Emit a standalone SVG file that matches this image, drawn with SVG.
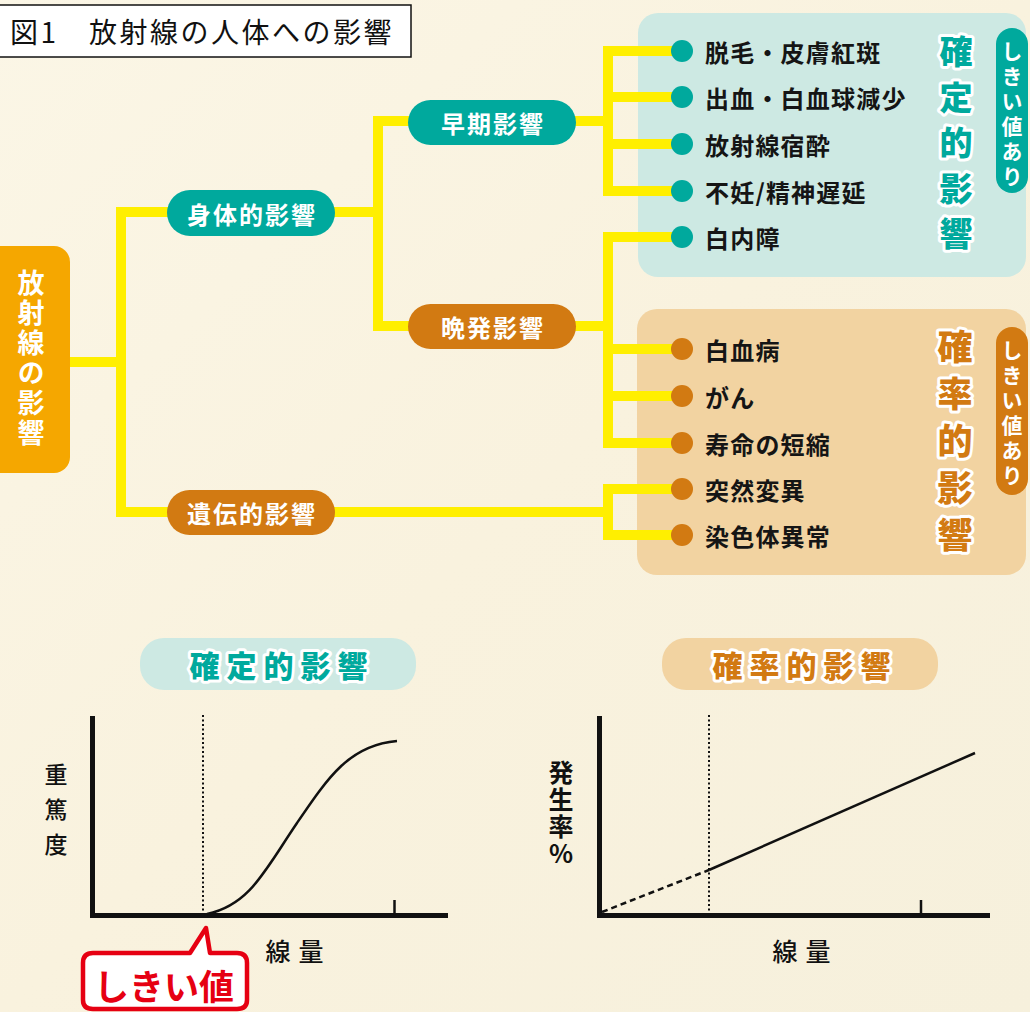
<svg xmlns="http://www.w3.org/2000/svg" width="1030" height="1012" viewBox="0 0 1030 1012">
<defs>
<style>
text{font-family:"Noto Sans CJK JP","Noto Sans CJK SC",sans-serif}
.conn{stroke:#FFEF00;stroke-width:10;fill:none;stroke-linejoin:miter}
.pt{fill:#00A99D}
.po{fill:#D27A12}
.ptxt{fill:#fff;font-size:24px;font-weight:700;text-anchor:middle;dominant-baseline:central;letter-spacing:2px}
.item{fill:#151515;font-size:24px;font-weight:700;dominant-baseline:central;letter-spacing:1.2px}
.bt{fill:#00A99D}
.bo{fill:#D27A12}
.big{stroke:#fff;stroke-width:6;paint-order:stroke;stroke-linejoin:round;font-weight:900;text-anchor:middle;dominant-baseline:central}
.vt{writing-mode:vertical-rl;text-orientation:upright;text-anchor:start}
.vbig{stroke:#fff;stroke-width:6;paint-order:stroke;stroke-linejoin:round;font-weight:900}
.tag{fill:#fff;font-size:21px;font-weight:700;letter-spacing:4px}
.axis{stroke:#111;stroke-width:5;fill:none}
.lbl{fill:#111;text-anchor:middle;dominant-baseline:central}
</style>
<linearGradient id="bg" x1="0" y1="0" x2="1" y2="1">
<stop offset="0" stop-color="#FBF6E6"/>
<stop offset="0.5" stop-color="#F9F2DE"/>
<stop offset="1" stop-color="#F6F0DC"/>
</linearGradient>
</defs>
<rect width="1030" height="1012" fill="url(#bg)"/>

<g id="title">
<rect x="-5" y="5" width="416" height="52" fill="#fff" stroke="#111" stroke-width="1.5"/>
<text x="10" y="31" font-size="28" dominant-baseline="central" letter-spacing="2.5" fill="#111">図1　放射線の人体への影響</text>
</g>

<g id="group-deterministic">
<rect x="638" y="13" width="388" height="264" rx="20" fill="#CDE9E3"/>
</g>
<g id="group-stochastic">
<rect x="637" y="309" width="389" height="266" rx="20" fill="#F2D3A1"/>
</g>

<g id="connectors">
<path class="conn" d="M69,362 H121"/>
<path class="conn" d="M170,212 H121 V512 H170"/>
<path class="conn" d="M330,212 H378"/>
<path class="conn" d="M412,121 H378 V326 H412"/>
<path class="conn" d="M572,121 H608"/>
<path class="conn" d="M682,51 H608 V191 H682"/>
<path class="conn" d="M608,97 H682 M608,144 H682"/>
<path class="conn" d="M572,326 H608"/>
<path class="conn" d="M682,237 H608 V443 H682"/>
<path class="conn" d="M608,349 H682 M608,396 H682"/>
<path class="conn" d="M330,512 H608"/>
<path class="conn" d="M682,489 H608 V535 H682"/>
</g>

<g id="root">
<rect x="-15" y="246" width="85" height="227" rx="16" fill="#F5A700"/>
<text class="vt" x="31" y="269" fill="#fff" font-size="27" font-weight="700" letter-spacing="3">放射線の影響</text>
</g>

<g id="node-shintai">
<rect class="pt" x="167" y="190" width="168" height="46" rx="23"/>
<text class="ptxt" x="252" y="213">身体的影響</text>
</g>
<g id="node-iden">
<rect class="po" x="167" y="490" width="168" height="45" rx="22.5"/>
<text class="ptxt" x="252" y="512">遺伝的影響</text>
</g>
<g id="node-souki">
<rect class="pt" x="408" y="100" width="168" height="45" rx="22.5"/>
<text class="ptxt" x="493" y="122">早期影響</text>
</g>
<g id="node-banpatsu">
<rect class="po" x="408" y="304" width="168" height="45" rx="22.5"/>
<text class="ptxt" x="493" y="326">晩発影響</text>
</g>

<g id="item-datsumo"><circle class="pt" cx="682" cy="51" r="11"/><text class="item" x="705" y="51">脱毛・皮膚紅斑</text></g>
<g id="item-shukketsu"><circle class="pt" cx="682" cy="97" r="11"/><text class="item" x="705" y="97">出血・白血球減少</text></g>
<g id="item-shukusui"><circle class="pt" cx="682" cy="144" r="11"/><text class="item" x="705" y="144">放射線宿酔</text></g>
<g id="item-funin"><circle class="pt" cx="682" cy="191" r="11"/><text class="item" x="705" y="191">不妊/精神遅延</text></g>
<g id="item-hakunaisho"><circle class="pt" cx="682" cy="237" r="11"/><text class="item" x="705" y="237">白内障</text></g>
<g id="item-hakketsubyo"><circle class="po" cx="682" cy="349" r="11"/><text class="item" x="705" y="349">白血病</text></g>
<g id="item-gan"><circle class="po" cx="682" cy="396" r="11"/><text class="item" x="705" y="396">がん</text></g>
<g id="item-jumyo"><circle class="po" cx="682" cy="443" r="11"/><text class="item" x="705" y="443">寿命の短縮</text></g>
<g id="item-totsuzen"><circle class="po" cx="682" cy="489" r="11"/><text class="item" x="705" y="489">突然変異</text></g>
<g id="item-senshokutai"><circle class="po" cx="682" cy="535" r="11"/><text class="item" x="705" y="535">染色体異常</text></g>

<g id="label-deterministic">
<text class="vt vbig bt" x="956" y="35" font-size="33" letter-spacing="12.5">確定的影響</text>
<rect class="pt" x="996" y="28" width="32" height="165" rx="16"/>
<text class="vt tag" x="1012" y="41">しきい値あり</text>
</g>
<g id="label-stochastic">
<text class="vt vbig bo" x="955" y="329" font-size="35" letter-spacing="12">確率的影響</text>
<rect class="po" x="996" y="327" width="32" height="168" rx="16"/>
<text class="vt tag" x="1012" y="340">しきい値あり</text>
</g>

<g id="graph1-title">
<rect x="140" y="638" width="276" height="52" rx="24" fill="#CDE9E3"/>
<text class="big bt" x="282" y="664" font-size="30" letter-spacing="7">確定的影響</text>
</g>
<g id="graph2-title">
<rect x="662" y="638" width="276" height="52" rx="24" fill="#F2D3A1"/>
<text class="big bo" x="805" y="664" font-size="30" letter-spacing="7">確率的影響</text>
</g>

<g id="graph1">
<path class="axis" d="M92.5,716 V915.5 H448"/>
<path d="M394.5,900 V915" stroke="#111" stroke-width="2.5"/>
<path d="M203,715 V913" stroke="#111" stroke-width="2" stroke-dasharray="2 2.5"/>
<path d="M207,914 C250,905 265,870 297,823 C329,776 350,745 397,741" stroke="#111" stroke-width="2.5" fill="none"/>
<text class="vt" x="56" y="763" fill="#111" font-size="23" font-weight="500" letter-spacing="12">重篤度</text>
<text class="lbl" font-size="25" font-weight="500"><tspan x="278" y="950">線</tspan><tspan x="311" y="950">量</tspan></text>
</g>

<g id="graph2">
<path class="axis" d="M599.5,716 V915.5 H990"/>
<path d="M921,900 V915" stroke="#111" stroke-width="2.5"/>
<path d="M709,715 V912" stroke="#111" stroke-width="2" stroke-dasharray="2 2.5"/>
<path d="M602,912 L709,870" stroke="#111" stroke-width="2.5" stroke-dasharray="6 4"/>
<path d="M709,870 L975,753" stroke="#111" stroke-width="2.5"/>
<text class="vt" x="561" y="760" fill="#111" font-size="25" font-weight="700" letter-spacing="2">発生率%</text>
<text class="lbl" font-size="25" font-weight="500"><tspan x="785" y="950">線</tspan><tspan x="818" y="950">量</tspan></text>
</g>

<g id="callout-threshold">
<path d="M93,953 H190 L206,928 L210,953 H237 Q247,953 247,963 V1000 Q247,1009 237,1009 H93 Q83,1009 83,1000 V963 Q83,953 93,953 Z" fill="#fff" stroke="#E60012" stroke-width="4.5" stroke-linejoin="round"/>
<text x="164" y="984" fill="#E60012" font-size="35" font-weight="700" text-anchor="middle" dominant-baseline="central">しきい値</text>
</g>
</svg>
